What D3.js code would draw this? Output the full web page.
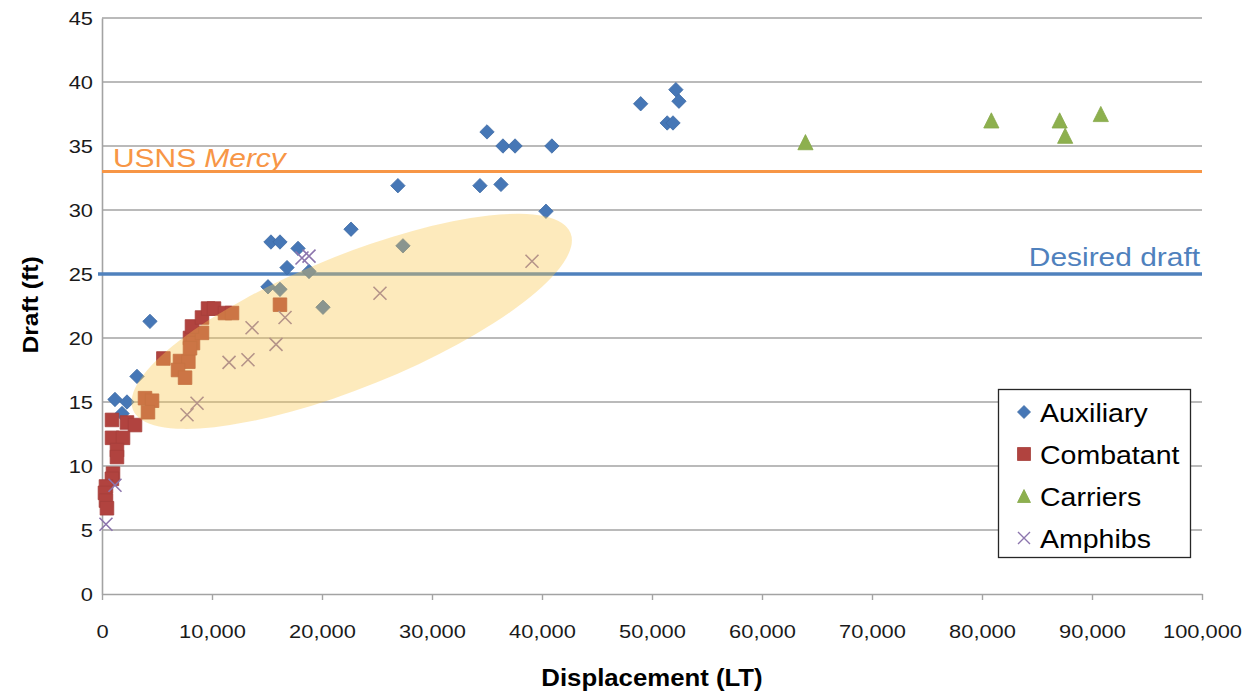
<!DOCTYPE html>
<html><head><meta charset="utf-8">
<script src="https://cdn.jsdelivr.net/npm/d3@7"></script>
<style>body{margin:0;background:#fff}svg{display:block}text{font-family:"Liberation Sans",Arial,sans-serif}</style>
</head><body>
<svg id="chart" width="1253" height="694"></svg>
<script>
// ---- data ----
const xTicks = [0, 10000, 20000, 30000, 40000, 50000, 60000, 70000, 80000, 90000, 100000];
const yTicks = [0, 5, 10, 15, 20, 25, 30, 35, 40, 45];
const seriesNames = ["Auxiliary", "Combatant", "Carriers", "Amphibs"];

const auxDisp  = [1180, 2270, 1820, 3180, 4360, 15360, 16180, 17820, 16820, 15090, 16180, 20090, 18820, 22640, 26900, 27360, 35000, 36450, 37550, 40900, 34360, 36270, 40360, 48970, 52170, 52450, 51380, 51910];
const auxDraft = [15.2, 15.0, 14.1, 17.0, 21.3, 27.5, 27.5, 27.0, 25.5, 24.0, 23.8, 22.4, 25.2, 28.5, 31.9, 27.2, 36.1, 35.0, 35.0, 35.0, 31.9, 32.0, 29.9, 38.3, 39.4, 38.5, 36.8, 36.8];

const combDisp  = [910, 2270, 3000, 3910, 4550, 4180, 910, 1910, 1360, 1360, 1000, 900, 360, 270, 360, 450, 5580, 7090, 7850, 6910, 7550, 8000, 8270, 8000, 9090, 8180, 9090, 9640, 10180, 11180, 11820, 16180];
const combDraft = [13.6, 13.4, 13.2, 15.3, 15.1, 14.2, 12.2, 12.2, 11.25, 10.7, 9.4, 9.0, 8.4, 7.9, 7.3, 6.7, 18.4, 18.2, 18.15, 17.5, 16.9, 20.0, 19.6, 19.2, 20.4, 20.9, 21.6, 22.3, 22.3, 21.95, 21.95, 22.6];

const carrDisp  = [63950, 80850, 87060, 87560, 90800];
const carrDraft = [35.3, 37.0, 37.0, 35.8, 37.5];

const amphDisp  = [360, 1180, 7730, 8640, 11550, 13270, 13640, 15820, 16640, 18180, 18820, 25270, 39090];
const amphDraft = [5.45, 8.5, 14.0, 14.9, 18.1, 18.3, 20.8, 19.5, 21.6, 26.25, 26.4, 23.5, 26.0];

const mercyDraft = 33;
const desiredDraft = 25;

// ---- drawing ----
const svg = d3.select("#chart");
svg.append("rect").attr("width", 1253).attr("height", 694).attr("fill", "#fff");
const x = d3.scaleLinear().domain([0, 100000]).range([102, 1202]);
const y = d3.scaleLinear().domain([0, 45]).range([594, 18]);
const grid = "#A3A3A3";

function stretch(sel, k) {
  sel.each(function () {
    const L = this.getComputedTextLength();
    d3.select(this).attr("textLength", L * k).attr("lengthAdjust", "spacingAndGlyphs");
  });
}

// gridlines
svg.append("g").selectAll("line").data(yTicks.filter(d => d > 0)).join("line")
  .attr("x1", x(0)).attr("x2", x(100000))
  .attr("y1", d => y(d)).attr("y2", d => y(d))
  .attr("stroke", grid).attr("stroke-width", 1.6);

// y axis
const gy = svg.append("g").attr("transform", `translate(${x(0)},0)`)
  .call(d3.axisLeft(y).tickValues(yTicks).tickSize(0).tickPadding(9).tickFormat(d3.format("d")));
gy.select(".domain").attr("stroke", grid).attr("stroke-width", 1.6);
gy.selectAll("text").attr("font-size", 19).attr("fill", "#1a1a1a");

// x axis
const gx = svg.append("g").attr("transform", `translate(0,${y(0)})`)
  .call(d3.axisBottom(x).tickValues(xTicks).tickSizeInner(6).tickSizeOuter(0).tickPadding(25).tickFormat(d3.format(",")));
gx.select(".domain").attr("stroke", grid).attr("stroke-width", 1.6);
gx.selectAll(".tick line").attr("stroke", grid).attr("stroke-width", 1.4);
gx.selectAll("text").attr("font-size", 19).attr("fill", "#1a1a1a");

// reference lines
svg.append("line").attr("x1", x(0)).attr("x2", x(100000))
  .attr("y1", y(mercyDraft)).attr("y2", y(mercyDraft))
  .attr("stroke", "#F79646").attr("stroke-width", 3);
svg.append("line").attr("x1", x(0) - 4).attr("x2", x(100000))
  .attr("y1", y(desiredDraft)).attr("y2", y(desiredDraft))
  .attr("stroke", "#4F81BD").attr("stroke-width", 3.5);

// marker shapes
const shapes = {
  diamond: s => `M0,${-s}L${s},0L0,${s}L${-s},0Z`,
  square: s => `M${-s},${-s}H${s}V${s}H${-s}Z`,
  triangle: s => `M0,${-s}L${s},${s}L${-s},${s}Z`,
  cross: s => `M${-s},${-s}L${s},${s}M${s},${-s}L${-s},${s}`
};
const series = [
  { name: seriesNames[0], dx: auxDisp, dy: auxDraft, shape: "diamond", size: 7.2, fill: "#4677B6", stroke: "#3F6BA5" },
  { name: seriesNames[1], dx: combDisp, dy: combDraft, shape: "square", size: 6.8, fill: "#B1433F", stroke: "#A63F3B" },
  { name: seriesNames[2], dx: carrDisp, dy: carrDraft, shape: "triangle", size: 7.6, fill: "#8DB04E", stroke: "#86A84A" },
  { name: seriesNames[3], dx: amphDisp, dy: amphDraft, shape: "cross", size: 6.5, fill: "none", stroke: "#8C75AD" }
];
series.forEach(s => {
  svg.append("g").selectAll("path").data(s.dx.map((d, i) => [d, s.dy[i]])).join("path")
    .attr("transform", d => `translate(${x(d[0])},${y(d[1])})`)
    .attr("d", shapes[s.shape](s.size))
    .attr("fill", s.fill).attr("stroke", s.stroke)
    .attr("stroke-width", s.shape === "cross" ? 1.6 : 0.8);
});

// highlight ellipse (drawn over points)
const ellC = [22700, 21.3];
svg.append("ellipse")
  .attr("transform", `translate(${x(ellC[0])},${y(ellC[1])}) rotate(-22)`)
  .attr("rx", 236).attr("ry", 66)
  .attr("fill", "#F9C74F").attr("opacity", 0.38);

// line labels
const mercy = svg.append("text").attr("x", 113).attr("y", y(mercyDraft) - 5)
  .attr("font-size", 26).attr("fill", "#F79646");
mercy.append("tspan").text("USNS ");
mercy.append("tspan").attr("font-style", "italic").text("Mercy");
stretch(mercy, 1.15);
const desired = svg.append("text").attr("x", 1200).attr("y", y(desiredDraft) - 8)
  .attr("text-anchor", "end").attr("font-size", 26).attr("fill", "#4F81BD").text("Desired draft");
stretch(desired, 1.15);

// axis titles
const yt = svg.append("text").attr("transform", `translate(38,305) rotate(-90)`)
  .attr("text-anchor", "middle").attr("font-size", 22).attr("font-weight", "bold").text("Draft (ft)");
stretch(yt, 1.12);
const xt = svg.append("text").attr("x", 652).attr("y", 686)
  .attr("text-anchor", "middle").attr("font-size", 23).attr("font-weight", "bold").text("Displacement (LT)");
stretch(xt, 1.12);

// legend
const lg = svg.append("g");
lg.append("rect").attr("x", 998.5).attr("y", 389.5).attr("width", 192).attr("height", 168)
  .attr("fill", "#fff").attr("stroke", "#262626").attr("stroke-width", 1.3);
series.forEach((s, i) => {
  const cy = 412 + i * 42;
  lg.append("path").attr("transform", `translate(1024,${cy})`)
    .attr("d", shapes[s.shape](s.shape === "cross" ? 6 : 6.5))
    .attr("fill", s.fill).attr("stroke", s.stroke).attr("stroke-width", s.shape === "cross" ? 1.4 : 0.8);
  const t = lg.append("text").attr("x", 1040).attr("y", cy + 9.5).attr("font-size", 25).attr("fill", "#000").text(s.name);
  stretch(t, 1.14);
});
stretch(gy.selectAll("text"), 1.15);
stretch(gx.selectAll("text"), 1.15);
</script>
</body></html>
